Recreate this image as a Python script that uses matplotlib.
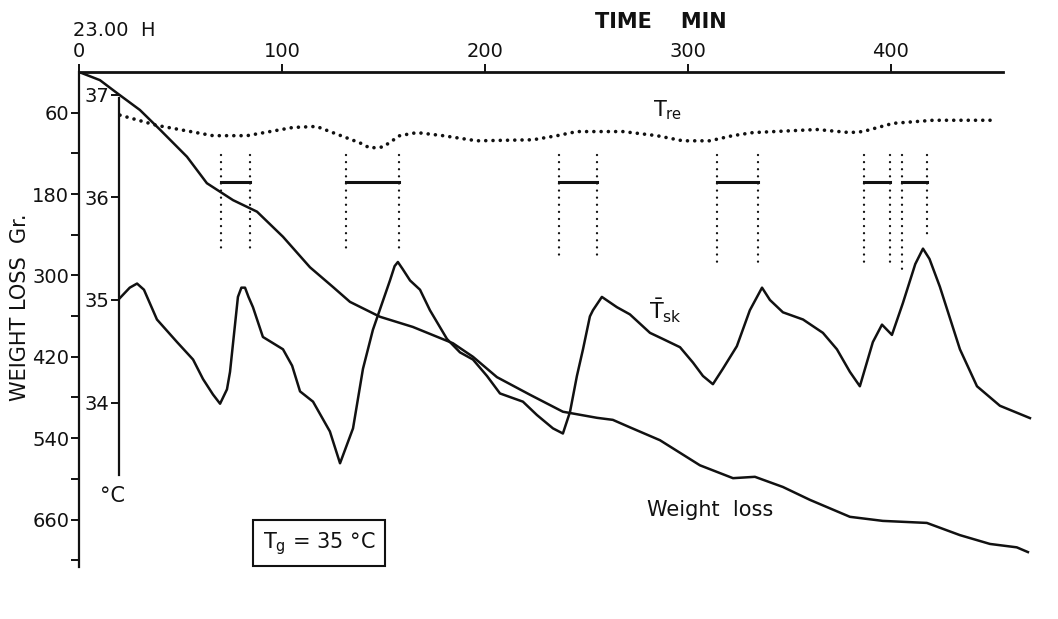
import matplotlib.pyplot as plt

plt.rcParams['font.family'] = 'DejaVu Sans'
plt.rcParams['mathtext.default'] = 'regular'

INK = '#111111'

# cumulative weight loss (g) against time (min)
time_wl = [0, 10.3, 18.7, 30, 39.9, 53.2, 63, 75.9, 87.7, 100.5, 113.8, 125.1,
           133.5, 148.3, 164.5, 184.2, 194.1, 205.9, 222.2, 238.4, 255.2, 263,
           271.4, 286.2, 305.9, 322.2, 333, 346.8, 360.1, 379.8, 396, 417.7,
           434, 448.8, 462, 467.5]
weight_loss = [0, 12, 31, 56, 85, 125, 164, 189, 206, 243, 288, 317,
               339, 361, 376, 400, 420, 450, 476, 501, 510, 513,
               524, 543, 580, 599, 597, 612, 631, 656, 662, 665,
               683, 696, 701, 708]

# mean skin temperature (deg C)
time_tsk = [20.2, 25, 28.6, 32, 38.4, 48.3, 56.2, 61.1, 66, 69.5, 72.9, 74.4,
            78.3, 80, 81.8, 83.5, 85.7, 90.6, 100.5, 105, 108.9, 115.3, 123.6,
            128.6, 135, 139.9, 144.8, 153.2, 155.5, 157.1, 159.5, 163.1, 168,
            172.9, 181.3, 187.7, 194.1, 201, 207.4, 218.7, 225.6, 233.5, 238.4,
            241.9, 245.3, 248.3, 251.7, 253.2, 257.6, 265, 271.4, 281.3, 287.7,
            296.1, 302.5, 307.4, 312.3, 317.2, 324.1, 330.5, 336.5, 340.4,
            346.8, 356.7, 366.5, 373.4, 379.8, 384.7, 391.1, 395.6, 400.5,
            405.9, 412, 415.8, 419, 424.1, 434, 442.4, 453.7, 468.5]
t_sk = [35.02, 35.12, 35.16, 35.10, 34.81, 34.59, 34.42, 34.23, 34.08, 33.99,
        34.13, 34.30, 35.03, 35.12, 35.12, 35.03, 34.93, 34.64, 34.52, 34.36,
        34.11, 34.01, 33.72, 33.41, 33.75, 34.33, 34.71, 35.19, 35.33, 35.37,
        35.30, 35.19, 35.10, 34.90, 34.62, 34.49, 34.42, 34.26, 34.09, 34.01,
        33.88, 33.75, 33.70, 33.91, 34.26, 34.52, 34.84, 34.90, 35.03, 34.93,
        34.86, 34.68, 34.62, 34.54, 34.39, 34.26, 34.18, 34.33, 34.55, 34.90,
        35.12, 35.00, 34.88, 34.81, 34.68, 34.52, 34.30, 34.16, 34.59, 34.76,
        34.66, 34.97, 35.35, 35.50, 35.40, 35.13, 34.52, 34.16, 33.97, 33.85]

# rectal temperature (deg C)
time_tre = [20.2, 38.4, 66, 82.8, 105.4, 117, 138.4, 143.3, 149.8, 158, 166.5,
            179.3, 196, 223.6, 235.5, 245.3, 268, 284.7, 297.5, 310.8, 322,
            332, 363.5, 379.8, 386.2, 401, 420.7, 452.2]
t_re = [36.80, 36.70, 36.60, 36.60, 36.68, 36.69, 36.53, 36.48, 36.49, 36.60,
        36.63, 36.60, 36.55, 36.56, 36.60, 36.64, 36.64, 36.60, 36.55, 36.55,
        36.60, 36.63, 36.66, 36.63, 36.64, 36.72, 36.75, 36.75]

# marked periods (start, end in min) and lower ends of their dotted markers (g)
period_start = [70, 131.5, 236.5, 314.3, 386.7, 405.4]
period_end = [84.2, 157.6, 255.2, 334.5, 399.5, 417.7]
marker_bottom_start = [267, 267, 273, 286, 286, 291]
marker_bottom_end = [267, 267, 274, 286, 289, 245]
marker_top = 122
bar_level = 162

wl_ticks = [60, 180, 300, 420, 540, 660]
wl_minor = [120, 240, 360, 480, 600, 720]
time_ticks = [0, 100, 200, 300, 400]
temp_ticks = [34, 35, 36, 37]

fig = plt.figure(figsize=(10.58, 6.19), dpi=100)
ax = fig.add_axes([79 / 1058, 52 / 619, 954 / 1058, 495 / 619])
ax.set_xlim(0, 470)
ax.set_ylim(730, 0)

for side in ['bottom', 'right']:
    ax.spines[side].set_visible(False)
ax.spines['top'].set_bounds(0, 455)
ax.spines['top'].set_linewidth(2.0)
ax.spines['left'].set_linewidth(1.6)
ax.spines['top'].set_color(INK)
ax.spines['left'].set_color(INK)

ax.xaxis.tick_top()
ax.set_xticks(time_ticks)
ax.set_xticklabels([str(t) for t in time_ticks])
ax.tick_params(axis='x', direction='out', length=6, width=1.4, pad=2,
               labelsize=14, colors=INK)
ax.set_yticks(wl_ticks)
ax.set_yticklabels([str(v) for v in wl_ticks])
ax.set_yticks(wl_minor, minor=True)
ax.tick_params(axis='y', which='both', direction='out', length=6, width=1.4,
               pad=1, labelsize=14, colors=INK)

# temperature scale on an inner vertical axis
ax2 = ax.twinx()
ax2.set_ylim(32.40, 37.22)
for side in ['right', 'top', 'bottom']:
    ax2.spines[side].set_visible(False)
ax2.spines['left'].set_visible(True)
ax2.spines['left'].set_position(('data', 19.7))
ax2.spines['left'].set_bounds(33.3, 36.97)
ax2.spines['left'].set_linewidth(1.6)
ax2.spines['left'].set_color(INK)
ax2.yaxis.set_ticks_position('left')
ax2.set_yticks(temp_ticks)
ax2.set_yticklabels([str(v) for v in temp_ticks])
ax2.tick_params(axis='y', direction='out', length=6, width=1.4, pad=1,
                labelsize=14, colors=INK)

# curves
ax.plot(time_wl, weight_loss, color=INK, lw=1.8, solid_joinstyle='round')
ax2.plot(time_tsk, t_sk, color=INK, lw=1.8, solid_joinstyle='round')
ax2.plot(time_tre, t_re, color=INK, lw=2.6, linestyle=(0, (0.01, 2.0)),
         dash_capstyle='round')

# dotted period markers with solid bars
for s, e, bs, be in zip(period_start, period_end, marker_bottom_start, marker_bottom_end):
    ax.plot([s, s], [marker_top, bs], color=INK, lw=1.7,
            linestyle=(0, (0.01, 3.0)), dash_capstyle='round')
    ax.plot([e, e], [marker_top, be], color=INK, lw=1.7,
            linestyle=(0, (0.01, 3.0)), dash_capstyle='round')
    ax.plot([s, e], [bar_level, bar_level], color=INK, lw=2.2)

# labels
fig.text(73 / 1058, 1 - 30 / 619, '23.00  H', ha='left', va='center',
         fontsize=14, color=INK)
fig.text(661 / 1058, 1 - 22 / 619, 'TIME    MIN', ha='center', va='center',
         fontsize=15, fontweight='bold', color=INK)
fig.text(20 / 1058, 1 - 307 / 619, 'WEIGHT LOSS  Gr.', ha='center', va='center',
         rotation=90, fontsize=15, color=INK)

ax.text(16.7, 625, '°C', ha='center', va='center', fontsize=15, color=INK)
ax2.text(290, 36.85, 'T$_{re}$', ha='center', va='center', fontsize=15, color=INK)
ax2.text(288.7, 34.89, r'$\bar{T}_{sk}$', ha='center', va='center', fontsize=16,
         color=INK)
ax.text(311, 646, 'Weight  loss', ha='center', va='center', fontsize=15, color=INK)
ax.text(118.2, 695, 'T$_g$ = 35 °C', ha='center', va='center', fontsize=15,
        color=INK, bbox=dict(boxstyle='square,pad=0.45', fc='white', ec=INK, lw=1.5))

fig.savefig('out.png', dpi=100, facecolor='white')
